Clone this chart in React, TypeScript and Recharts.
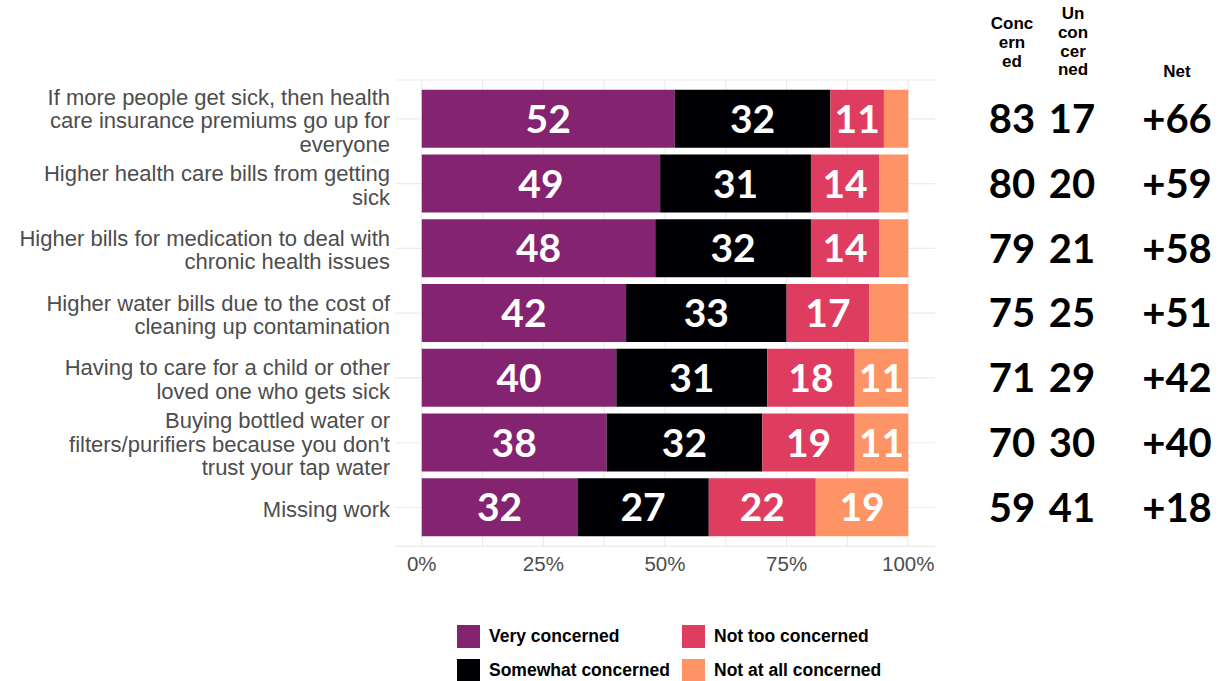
import React from 'react';
import { BarChart, Bar, XAxis, YAxis, CartesianGrid, LabelList } from 'recharts';

const categories = [
  "If more people get sick, then health\ncare insurance premiums go up for\neveryone",
  "Higher health care bills from getting\nsick",
  "Higher bills for medication to deal with\nchronic health issues",
  "Higher water bills due to the cost of\ncleaning up contamination",
  "Having to care for a child or other\nloved one who gets sick",
  "Buying bottled water or\nfilters/purifiers because you don't\ntrust your tap water",
  "Missing work",
];
const veryConcerned = [52, 49, 48, 42, 40, 38, 32];
const somewhatConcerned = [32, 31, 32, 33, 31, 32, 27];
const notTooConcerned = [11, 14, 14, 17, 18, 19, 22];
const notAtAllConcerned = [5, 6, 6, 8, 11, 11, 19];
const concernedTotal = [83, 80, 79, 75, 71, 70, 59];
const unconcernedTotal = [17, 20, 21, 25, 29, 30, 41];
const netValues = [66, 59, 58, 51, 42, 40, 18];
const xTicks = [0, 25, 50, 75, 100];
const gridValues = [0, 12.5, 25, 37.5, 50, 62.5, 75, 87.5, 100];

const seriesNames = ['Very concerned', 'Somewhat concerned', 'Not too concerned', 'Not at all concerned'];
const seriesKeys = ['very', 'somewhat', 'notToo', 'notAtAll'];
const colors = ['#842470', '#000004', '#de3d5f', '#fe9365'];

const data = categories.map((c, i) => ({
  category: c,
  very: veryConcerned[i],
  somewhat: somewhatConcerned[i],
  notToo: notTooConcerned[i],
  notAtAll: notAtAllConcerned[i],
}));

const LABEL_FONT = 'Lato, "Open Sans", sans-serif';
const ARIAL = '"Liberation Sans", Arial, Helvetica, sans-serif';

function YTick(props: any) {
  const { x, y, payload } = props;
  const lines = String(payload.value).split('\n');
  const lh = 23.5;
  const start = -((lines.length - 1) * lh) / 2 + 1.5;
  return (
    <text x={x} y={y} textAnchor="end" fill="#4d4d4d" fontSize={22} fontFamily={ARIAL}>
      {lines.map((l, i) => (
        <tspan key={i} x={x} y={y + start + i * lh} dy="0.35em">{l}</tspan>
      ))}
    </text>
  );
}

function XTick(props: any) {
  const { x, y, payload } = props;
  return (
    <text x={x} y={y + 17} dy="0.35em" textAnchor="middle" fill="#4d4d4d" fontSize={20.5} fontFamily={ARIAL}>
      {payload.value}%
    </text>
  );
}

const renderBarLabel = (props: any) => {
  const { x, y, width, height, value } = props;
  if (value < 10) return null;
  return (
    <text x={x + width / 2} y={y + height / 2} dy="0.36em" textAnchor="middle" fill="#ffffff"
      fontSize={39} fontWeight={700} fontFamily={LABEL_FONT}>{value}</text>
  );
};

const renderTotals = (props: any) => {
  const { y, height, index } = props;
  const cy = y + height / 2;
  const common = { dy: '0.36em', textAnchor: 'middle' as const, fill: '#000000', fontSize: 40, fontWeight: 700, fontFamily: LABEL_FONT };
  return (
    <g>
      <text x={1012} y={cy} {...common}>{concernedTotal[index]}</text>
      <text x={1072} y={cy} {...common}>{unconcernedTotal[index]}</text>
      <text x={1177} y={cy} {...common}>+{netValues[index]}</text>
    </g>
  );
};

function Header({ lines, cx, top }: { lines: string[]; cx: number; top: number }) {
  return (
    <div style={{ position: 'absolute', left: cx - 40, top, width: 80, textAlign: 'center', fontFamily: ARIAL, fontWeight: 700, fontSize: 17, lineHeight: '18.8px', color: '#000' }}>
      {lines.map((l, i) => <div key={i}>{l}</div>)}
    </div>
  );
}

export default function App() {
  return (
    <div style={{ position: 'absolute', left: 0, top: 0, width: 1226, height: 681, background: '#fff', overflow: 'hidden' }}>
      <BarChart
        width={1226}
        height={600}
        data={data}
        layout="vertical"
        margin={{ top: 80, right: 291, bottom: 0, left: 0 }}
        barCategoryGap="5%"
      >
        <CartesianGrid stroke="#ebebeb" strokeWidth={1.2} verticalValues={gridValues} horizontal={true} vertical={true} />
        <XAxis type="number" domain={[-5.5, 105.5]} ticks={xTicks} allowDataOverflow axisLine={false} tickLine={false}
          tickSize={0} tickMargin={0} height={53.6} tick={<XTick />} interval={0} />
        <YAxis type="category" dataKey="category" width={395} axisLine={false} tickLine={false} tickSize={0}
          tickMargin={5} tick={<YTick />} interval={0} padding={{ top: 6.5, bottom: 6.5 }} />
        {seriesKeys.map((k, i) => (
          <Bar key={k} dataKey={k} name={seriesNames[i]} stackId="a" fill={colors[i]} isAnimationActive={false}>
            <LabelList dataKey={k} content={renderBarLabel} />
            {i === seriesKeys.length - 1 ? <LabelList dataKey={k} content={renderTotals} /> : null}
          </Bar>
        ))}
      </BarChart>
      <Header lines={['Conc', 'ern', 'ed']} cx={1012} top={15} />
      <Header lines={['Un', 'con', 'cer', 'ned']} cx={1073} top={5} />
      <Header lines={['Net']} cx={1177} top={63} />
      <div style={{ position: 'absolute', left: 457, top: 625, fontFamily: ARIAL, fontWeight: 700, fontSize: 17.5, color: '#000' }}>
        {[0, 1].map((row) => (
          <div key={row} style={{ display: 'flex', height: 34 }}>
            {[0, 1].map((col) => {
              const idx = col * 2 + row;
              return (
                <div key={col} style={{ display: 'flex', alignItems: 'flex-start', width: col === 0 ? 225 : 230 }}>
                  <div style={{ width: 23, height: 23, background: colors[idx], marginRight: 9 }} />
                  <div style={{ lineHeight: '23px' }}>{seriesNames[idx]}</div>
                </div>
              );
            })}
          </div>
        ))}
      </div>
    </div>
  );
}
